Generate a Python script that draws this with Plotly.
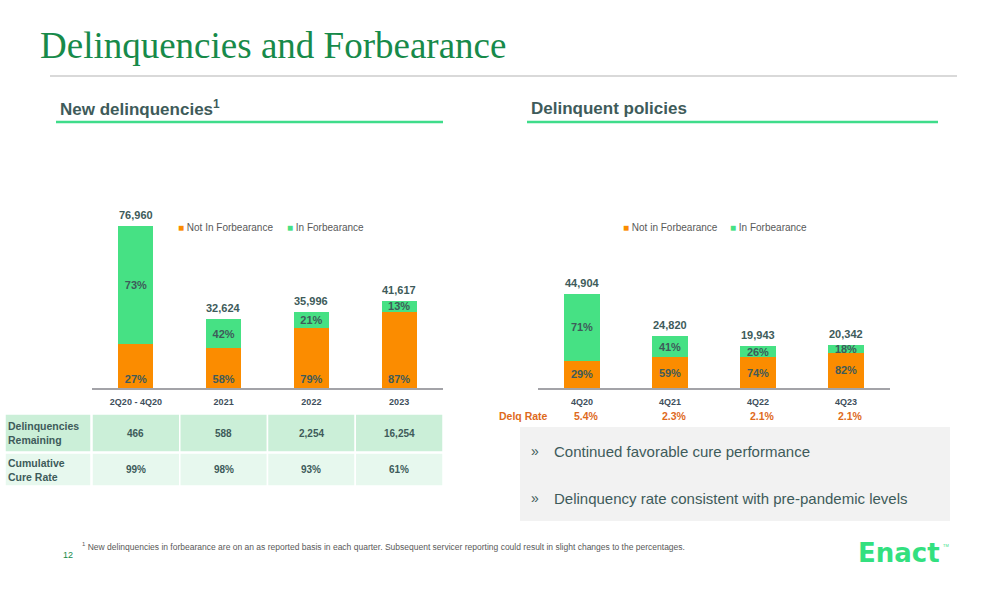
import plotly.graph_objects as go

W, H = 1008, 612

# ---------------- data ----------------
new_cats = ["2Q20 - 4Q20", "2021", "2022", "2023"]
new_totals = [76960, 32624, 35996, 41617]
new_not_pct = [27, 58, 79, 87]
new_in_pct = [73, 42, 21, 13]
remaining = ["466", "588", "2,254", "16,254"]
cure_rate = ["99%", "98%", "93%", "61%"]
table_labels = ["Delinquencies<br>Remaining", "Cumulative<br>Cure Rate"]

pol_cats = ["4Q20", "4Q21", "4Q22", "4Q23"]
pol_totals = [44904, 24820, 19943, 20342]
pol_not_pct = [29, 59, 74, 82]
pol_in_pct = [71, 41, 26, 18]
delq_rate = ["5.4%", "2.3%", "2.1%", "2.1%"]

bullets = ["Continued favorable cure performance",
           "Delinquency rate consistent with pre-pandemic levels"]

# ---------------- style ----------------
FONT = "Liberation Sans, Arial, sans-serif"
ORANGE = "#FB8C00"
GREEN = "#46E184"
DARK = "#3E5B5A"
TICK = "#404F5C"
TITLE_GREEN = "#178A4A"
LINE_GREEN = "#3FDC8A"
DELQ_ORANGE = "#DE6A1C"
YMAX = 89500


def px(x):
    return x / W


def py(y):
    return 1 - y / H


def seg(totals, pcts):
    return [t * p / 100 for t, p in zip(totals, pcts)]


fig = go.Figure()
annotations = []
shapes = []


def add_chart(cats, totals, not_pct, in_pct, xa, ya, not_name, orange_anchor, leg_x):
    fig.add_trace(go.Bar(
        x=cats, y=seg(totals, not_pct), name=not_name, marker_color=ORANGE,
        marker_line_width=0, text=[f"{p}%" for p in not_pct],
        texttemplate="<b>%{text}</b>", textposition="inside",
        insidetextanchor=orange_anchor, textangle=0, constraintext="none",
        textfont=dict(size=11, color=DARK, family=FONT),
        xaxis=xa, yaxis=ya, showlegend=False, hoverinfo="skip", cliponaxis=False))
    fig.add_trace(go.Bar(
        x=cats, y=seg(totals, in_pct), name="In Forbearance", marker_color=GREEN,
        marker_line_width=0, text=[f"{p}%" for p in in_pct],
        texttemplate="<b>%{text}</b>", textposition="inside",
        insidetextanchor="middle", textangle=0, constraintext="none",
        textfont=dict(size=11, color=DARK, family=FONT),
        xaxis=xa, yaxis=ya, showlegend=False, hoverinfo="skip", cliponaxis=False))
    # totals above the stacks
    for i, t in enumerate(totals):
        annotations.append(dict(text=f"<b>{t:,}</b>", x=i, y=t, xref=xa, yref=ya,
                                xanchor="center", yanchor="middle", yshift=11,
                                showarrow=False,
                                font=dict(size=11, color=DARK, family=FONT)))
    # legend entries
    for (name, col), lx in zip([(not_name, ORANGE), ("In Forbearance", GREEN)], leg_x):
        annotations.append(dict(
            text=f"<span style='color:{col}'>■</span> {name}", x=px(lx), y=py(227),
            xref="paper", yref="paper", xanchor="left", yanchor="middle",
            showarrow=False, font=dict(size=10, color="#595959", family=FONT)))


add_chart(new_cats, new_totals, new_not_pct, new_in_pct, "x", "y",
          "Not In Forbearance", "start", [176, 285])
add_chart(pol_cats, pol_totals, pol_not_pct, pol_in_pct, "x2", "y2",
          "Not in Forbearance", "middle", [621, 728])

axis_common = dict(type="category", range=[-0.5, 3.5], showline=True,
                   linecolor="#A3A3A8", linewidth=2, ticks="", showgrid=False,
                   zeroline=False, fixedrange=True, ticklabelstandoff=4,
                   tickfont=dict(size=9, color=TICK, family=FONT))
yaxis_common = dict(range=[0, YMAX], visible=False, fixedrange=True)

fig.update_layout(
    width=W, height=H, margin=dict(l=0, r=0, t=0, b=0),
    paper_bgcolor="white", plot_bgcolor="rgba(0,0,0,0)",
    barmode="stack", bargap=0.6, showlegend=False,
    font=dict(family=FONT),
    uniformtext=dict(minsize=11, mode="show"),
    xaxis=dict(domain=[px(92), px(443)], anchor="y",
               tickvals=new_cats, ticktext=[f"<b>{c}</b>" for c in new_cats],
               **axis_common),
    yaxis=dict(domain=[py(388), py(200)], anchor="x", **yaxis_common),
    xaxis2=dict(domain=[px(538), px(890)], anchor="y2",
                tickvals=pol_cats, ticktext=[f"<b>{c}</b>" for c in pol_cats],
                **axis_common),
    yaxis2=dict(domain=[py(388), py(200)], anchor="x2", **yaxis_common),
)

# title and rules
annotations.append(dict(text="Delinquencies and Forbearance", x=px(38), y=py(46),
                        xref="paper", yref="paper", xanchor="left", yanchor="middle",
                        showarrow=False,
                        font=dict(family="Liberation Serif, Times New Roman, serif",
                                  size=37, color=TITLE_GREEN)))
shapes.append(dict(type="line", xref="paper", yref="paper", x0=px(50), x1=px(957),
                   y0=py(76), y1=py(76), line=dict(color="#D9D9D9", width=2)))

for text, x0, x1 in [("New delinquencies<sup>1</sup>", 56, 443),
                     ("Delinquent policies", 527, 938)]:
    annotations.append(dict(text=f"<b>{text}</b>", x=px(x0 + 2), y=py(108),
                            xref="paper", yref="paper", xanchor="left",
                            yanchor="middle", showarrow=False,
                            font=dict(size=17, color=DARK, family=FONT)))
    shapes.append(dict(type="line", xref="paper", yref="paper", x0=px(x0), x1=px(x1),
                       y0=py(122), y1=py(122), line=dict(color=LINE_GREEN, width=2.5)))

# table under the left chart
rows = [(remaining, 414, 452, "#CBEFD8"), (cure_rate, 453, 486, "#E7F8EE")]
for (vals, top, bot, fill), label in zip(rows, table_labels):
    shapes.append(dict(type="rect", xref="paper", yref="paper", x0=px(5), x1=px(91),
                       y0=py(bot), y1=py(top), fillcolor=fill,
                       line=dict(color="white", width=1.5)))
    annotations.append(dict(text=f"<b>{label}</b>", x=px(6), y=py((top + bot) / 2),
                            xref="paper", yref="paper", xanchor="left",
                            yanchor="middle", align="left", showarrow=False,
                            font=dict(size=10.5, color=DARK, family=FONT)))
    for i, v in enumerate(vals):
        shapes.append(dict(type="rect", xref="x", yref="paper", x0=i - 0.5, x1=i + 0.5,
                           y0=py(bot), y1=py(top), fillcolor=fill,
                           line=dict(color="white", width=1.5)))
        annotations.append(dict(text=f"<b>{v}</b>", x=i, y=py((top + bot) / 2),
                                xref="x", yref="paper", xanchor="center",
                                yanchor="middle", showarrow=False,
                                font=dict(size=10, color=DARK, family=FONT)))

# delinquency rate row
annotations.append(dict(text="<b>Delq Rate</b>", x=px(497), y=py(416), xref="paper",
                        yref="paper", xanchor="left", yanchor="middle", showarrow=False,
                        font=dict(size=10.5, color=DELQ_ORANGE, family=FONT)))
for i, r in enumerate(delq_rate):
    annotations.append(dict(text=f"<b>{r}</b>", x=i, y=py(416), xref="x2", yref="paper",
                            xanchor="center", yanchor="middle", xshift=4,
                            showarrow=False,
                            font=dict(size=10.5, color=DELQ_ORANGE, family=FONT)))

# commentary box
shapes.append(dict(type="rect", xref="paper", yref="paper", x0=px(520), x1=px(950),
                   y0=py(521), y1=py(427), fillcolor="#F2F2F2", line=dict(width=0),
                   layer="below"))
for b, yy in zip(bullets, [451, 498]):
    annotations.append(dict(text="»", x=px(529), y=py(yy), xref="paper", yref="paper",
                            xanchor="left", yanchor="middle", showarrow=False,
                            font=dict(size=14, color=DARK, family=FONT)))
    annotations.append(dict(text=b, x=px(552), y=py(yy), xref="paper", yref="paper",
                            xanchor="left", yanchor="middle", showarrow=False,
                            font=dict(size=15, color=DARK, family=FONT)))

# footer
annotations.append(dict(
    text="<sup>1</sup> New delinquencies in forbearance are on an as reported basis in each "
         "quarter. Subsequent servicer reporting could result in slight changes to the "
         "percentages.",
    x=px(80), y=py(546), xref="paper", yref="paper", xanchor="left", yanchor="middle",
    showarrow=False, font=dict(size=8.5, color="#595959", family=FONT)))
annotations.append(dict(text="12", x=px(61), y=py(555), xref="paper", yref="paper",
                        xanchor="left", yanchor="middle", showarrow=False,
                        font=dict(size=9, color=TITLE_GREEN, family=FONT)))
annotations.append(dict(text="<b>Enact</b>", x=px(856), y=py(553), xref="paper",
                        yref="paper", xanchor="left", yanchor="middle", showarrow=False,
                        font=dict(size=26, color="#33E07F",
                                  family="DejaVu Sans, sans-serif")))
annotations.append(dict(text="TM", x=px(941), y=py(545), xref="paper", yref="paper",
                        xanchor="left", yanchor="middle", showarrow=False,
                        font=dict(size=4, color="#33E07F", family=FONT)))

fig.update_layout(shapes=shapes, annotations=annotations)
fig.write_html("out.html", config={"displayModeBar": False, "staticPlot": True},
               post_script="document.body.style.margin='0';")
